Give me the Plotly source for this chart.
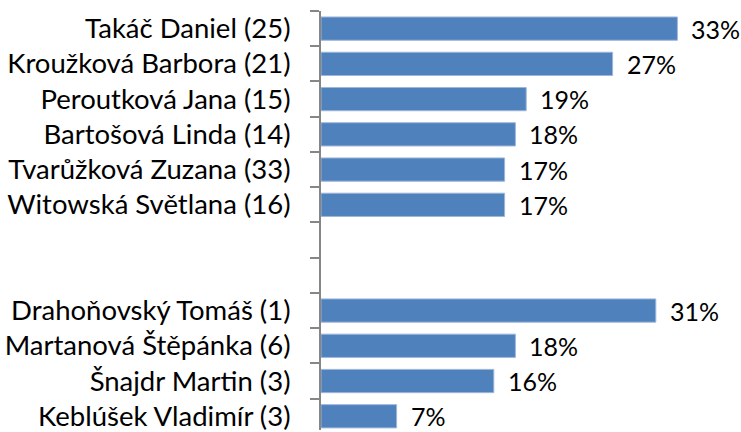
import plotly.graph_objects as go

# Names with counts in brackets; two blank rows separate the groups
names = [
    "Takáč Daniel (25)",
    "Kroužková Barbora (21)",
    "Peroutková Jana (15)",
    "Bartošová Linda (14)",
    "Tvarůžková Zuzana (33)",
    "Witowská Světlana (16)",
    " ",
    "  ",
    "Drahoňovský Tomáš (1)",
    "Martanová Štěpánka (6)",
    "Šnajdr Martin (3)",
    "Keblúšek Vladimír (3)",
]
shares = [0.33, 0.27, 0.19, 0.18, 0.17, 0.17, None, None, 0.31, 0.18, 0.16, 0.07]

FONT = "Lato"
BAR = "#4F81BD"
AXIS = "#868686"

fig = go.Figure(
    go.Bar(
        x=shares,
        y=names,
        orientation="h",
        marker=dict(color=BAR, line=dict(color="#9DB6DA", width=1)),
        hoverinfo="skip",
    )
)

# Percentage labels just past the end of each bar
for name, v in zip(names, shares):
    if v is None:
        continue
    fig.add_annotation(
        x=v, y=name, text=f"{v:.0%}", showarrow=False,
        xanchor="left", yanchor="middle", xshift=12,
        font=dict(family=FONT, size=25, color="#000000"),
    )

fig.update_layout(
    width=741,
    height=432,
    margin=dict(l=321, r=42, t=11, b=0),
    paper_bgcolor="white",
    plot_bgcolor="white",
    bargap=0.34,
    showlegend=False,
    font=dict(family=FONT, size=25, color="#000000"),
)
fig.update_xaxes(
    range=[0, 0.35], visible=False, showgrid=False, zeroline=False,
)
fig.update_yaxes(
    type="category",
    categoryorder="array",
    categoryarray=names,
    range=[11.39, -0.5],
    tickson="boundaries",
    ticks="outside",
    ticklen=9,
    tickwidth=2,
    tickcolor=AXIS,
    showline=True,
    linewidth=2,
    linecolor=AXIS,
    showgrid=False,
    zeroline=False,
    ticklabelstandoff=23,
    tickfont=dict(family=FONT, size=27.5, color="#000000"),
)

fig.write_html("out.html")
